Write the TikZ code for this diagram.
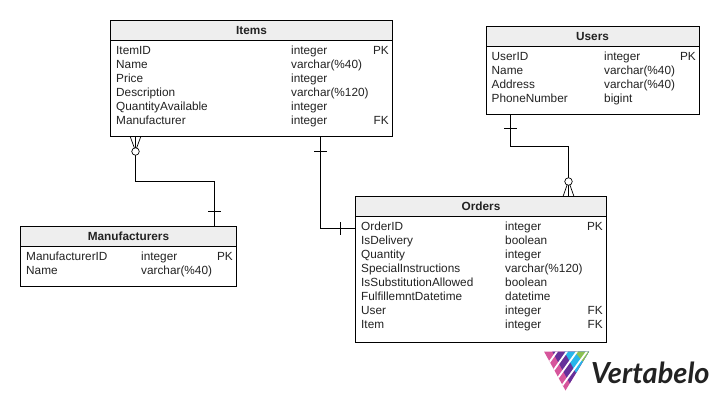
\documentclass[tikz,border=0pt]{standalone}
\usepackage{fontspec}
\setmainfont{Liberation Sans}
\newfontfamily\logofont{Lato}
\definecolor{hdr}{HTML}{EEEEEE}
\definecolor{ink}{HTML}{222222}
\definecolor{lpink}{HTML}{D6559B}
\definecolor{lpurple}{HTML}{66309A}
\definecolor{lblue}{HTML}{27B5EA}
\definecolor{lgreen}{HTML}{8CC152}
\tikzset{
  x=1pt,y=-1pt,
  tbl/.style={draw=black,line width=0.9pt,fill=white},
  hbar/.style={draw=black,line width=0.9pt,fill=hdr},
  link/.style={draw=black,line width=0.9pt},
  tick/.style={draw=black,line width=0.7pt},
  ring/.style={circle,draw=black,line width=0.7pt,fill=white,minimum size=7.5pt,inner sep=0pt},
  cell/.style={anchor=base west,inner sep=0pt,font=\fontsize{11.8}{13}\selectfont,text=ink},
  title/.style={anchor=base,inner sep=0pt,font=\fontsize{11.8}{13}\selectfont\bfseries,text=ink},
  cut/.style={draw=white,line width=1.8pt},
}
\newcommand{\tablebox}[9]{% name, x0,y0,x1,y1, title, col2, col3, rows
  \path[tbl] (#2,#3) rectangle (#4,#5);
  \path[hbar] (#2,#3) rectangle (#4,#3+20);
  \coordinate (#1-nw) at (#2,#3);
  \coordinate (#1-se) at (#4,#5);
  \node[title] (#1-title) at ({(#2+#4)/2},#3+14) {#6};
  \foreach \nm/\ty/\ky [count=\i from 0] in {#9} {
    \node[cell] (#1-n\i) at (#2+5.5,#3+34+14*\i) {\nm};
    \node[cell] (#1-t\i) at (#7,#3+34+14*\i) {\ty};
    \node[cell,anchor=base east] (#1-k\i) at (#8,#3+34+14*\i) {\ky};
  }
}
\begin{document}
\begin{tikzpicture}
\useasboundingbox (0,0) rectangle (719,401);
% connectors first
\coordinate (a1) at (135.5,136);
\coordinate (a2) at (214.5,226.5);
\draw[link] (a1) -- (135.5,181.5) -- (214.5,181.5) -- (a2);
\coordinate (b1) at (320.5,136);
\coordinate (b2) at (355.5,228.5);
\draw[link] (b1) -- (320.5,228.5) -- (b2);
\coordinate (c1) at (510.5,114);
\coordinate (c2) at (568.5,196.5);
\draw[link] (c1) -- (510.5,146.5) -- (568.5,146.5) -- (c2);
% ticks
\draw[tick] (208,211.5) -- (221,211.5);
\draw[tick] (314,151.5) -- (327,151.5);
\draw[tick] (340.5,222) -- (340.5,235);
\draw[tick] (504,128.5) -- (517,128.5);
% crow feet
\draw[tick] (130,136) -- (135.5,151) -- (141,136);
\node[ring] (r1) at (135.5,151.5) {};
\draw[tick] (563,196.5) -- (568.5,181) -- (574,196.5);
\node[ring] (r2) at (568.5,181.5) {};
% tables
\tablebox{items}{110.5}{20.5}{392.5}{136}{Items}{291}{389}{ItemID/integer/PK,Name/varchar(\%40)/,Price/integer/,Description/varchar(\%120)/,QuantityAvailable/integer/,Manufacturer/integer/FK}
\tablebox{users}{486}{26.5}{699}{114}{Users}{604}{696}{UserID/integer/PK,Name/varchar(\%40)/,Address/varchar(\%40)/,PhoneNumber/bigint/}
\tablebox{manu}{20.5}{226.5}{236.5}{286.5}{Manufacturers}{141}{233}{ManufacturerID/integer/PK,Name/varchar(\%40)/}
\tablebox{ord}{355.5}{196.5}{606.5}{342}{Orders}{505}{603}{OrderID/integer/PK,IsDelivery/boolean/,Quantity/integer/,SpecialInstructions/varchar(\%120)/,IsSubstitutionAllowed/boolean/,FulfillemntDatetime/datetime/,User/integer/FK,Item/integer/FK}
% logo
\begin{scope}
\clip (544,351.5) -- (589,351.5) -- (565.5,390.5) -- cycle;
\fill[lpink] (543,350) rectangle (590,392);
\fill[lpurple] (552,351) -- (590,351) -- (590,392) -- (574,391) -- cycle;
\fill[lblue] (564,351) -- (590,351) -- (590,392) -- (586,391) -- cycle;
\fill[lgreen] (574,351) -- (590,351) -- (590,363) -- (584,363) -- cycle;
\draw[cut] (558,350) -- (546,367);
\draw[cut] (568,350) -- (551,374);
\draw[cut] (578,350) -- (555,382);
\draw[cut] (588,350) -- (559,390);
\end{scope}
\node[anchor=base west,inner sep=0pt,font=\logofont\fontsize{29}{30}\selectfont\bfseries\itshape,text=ink] (logo) at (591,383) {Vertabelo};
\end{tikzpicture}
\end{document}
